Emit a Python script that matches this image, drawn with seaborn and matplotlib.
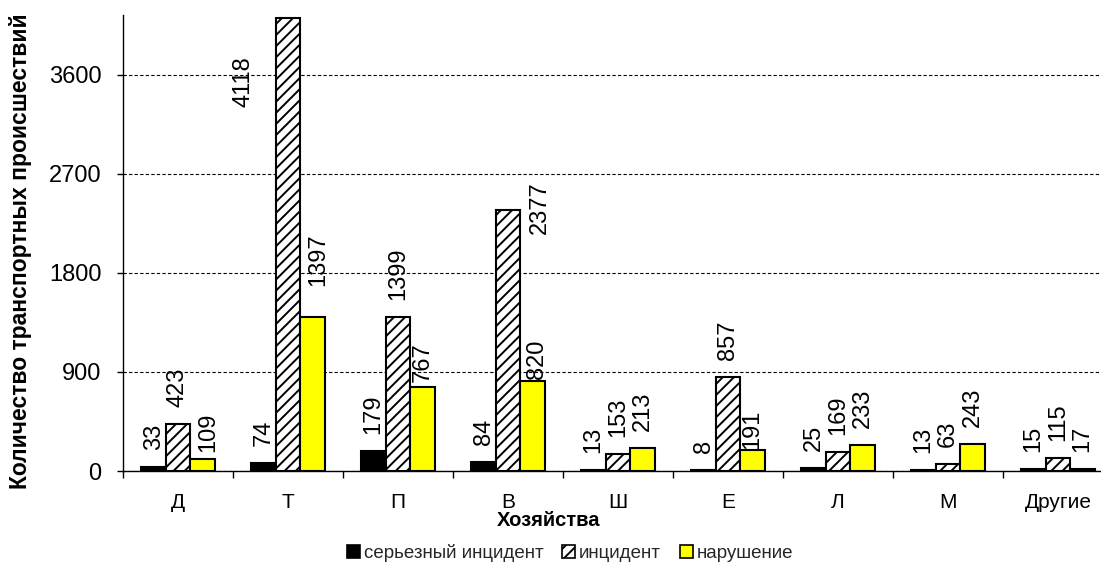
import numpy as np
import pandas as pd
import matplotlib
matplotlib.use("Agg")
import matplotlib.pyplot as plt
from matplotlib.patches import Patch
import seaborn as sns

# Transport events by farm and by severity
farms = ["Д", "Т", "П", "В", "Ш", "Е", "Л", "М", "Другие"]
series = ["серьезный инцидент", "инцидент", "нарушение"]
serious = [33, 74, 179, 84, 13, 8, 25, 13, 15]
incident = [423, 4118, 1399, 2377, 153, 857, 169, 63, 115]
violation = [109, 1397, 767, 820, 213, 191, 233, 243, 17]
y_ticks = [0, 900, 1800, 2700, 3600]

colors = ["#000000", "#FFFFFF", "#FFFF00"]
hatches = [None, "///", None]

df = pd.DataFrame({
    "Хозяйство": farms * len(series),
    "Вид": np.repeat(series, len(farms)),
    "Количество": serious + incident + violation,
})

sns.set_theme(style="white")
plt.rcParams["font.family"] = ["Liberation Sans", "DejaVu Sans"]
plt.rcParams["hatch.linewidth"] = 1.4
plt.rcParams["hatch.color"] = "black"

W, H = 1101, 571
fig = plt.figure(figsize=(W / 100, H / 100), dpi=100)
ax = fig.add_axes([123 / W, 1 - 471 / H, 990 / W, 456 / H])

sns.barplot(
    data=df, x="Хозяйство", y="Количество", hue="Вид",
    order=farms, hue_order=series, palette=colors, saturation=1,
    width=0.665, edgecolor="black", linewidth=1.5, errorbar=None,
    legend=False, ax=ax,
)

for cont, h in zip(ax.containers, hatches):
    if h:
        for bar in cont:
            bar.set_hatch(h)

ax.set_xlim(-0.5, len(farms) - 0.5)
ax.set_ylim(0, 4145)
ax.set_yticks(y_ticks)
ax.set_yticklabels([str(t) for t in y_ticks])

# dashed horizontal grid
ax.set_axisbelow(True)
ax.yaxis.grid(True, linestyle=(0, (3, 2)), color="black", linewidth=0.8)
ax.xaxis.grid(False)

for side in ["top", "right"]:
    ax.spines[side].set_visible(False)
for side in ["left", "bottom"]:
    ax.spines[side].set_color("black")
    ax.spines[side].set_linewidth(1.0)

ax.tick_params(axis="y", which="major", direction="out", length=4.5, width=1,
               color="black", pad=11, labelsize=17, labelcolor="black", left=True)
ax.tick_params(axis="x", which="major", length=0, pad=16, labelsize=15,
               labelcolor="black")
ax.set_xticks(np.arange(-0.5, len(farms), 1.0), minor=True)
ax.tick_params(axis="x", which="minor", direction="out", length=5, width=1,
               color="black", bottom=True)

ax.set_xlabel("Хозяйства", fontsize=14.5, fontweight="bold", color="black")
ax.xaxis.label.set_va("center")
ax.xaxis.set_label_coords(0.430, -(520 - 471) / 456)

ax.set_ylabel("Количество транспортных происшествий", fontsize=16.5,
              fontweight="bold", color="black")
ax.yaxis.label.set_va("center")
ax.yaxis.set_label_coords(-0.104, 0.482)

# value labels above bars (offsets in pixels)
default_gap = 17
special = {
    ("Д", 2): dict(dx=6, dy=7),
    ("Т", 2): dict(dx=6, dy=31),
    ("П", 2): dict(dx=0, dy=5),
    ("В", 2): dict(dx=5, dy=2),
    ("Е", 2): dict(dx=0, dy=1),
}
beside = {
    ("Т", 1): dict(dx=-45, dy=-64),
    ("В", 1): dict(dx=32, dy=2),
}
values = [serious, incident, violation]
for si, cont in enumerate(ax.containers):
    for fi, bar in enumerate(cont):
        v = values[si][fi]
        cx = bar.get_x() + bar.get_width() / 2
        key = (farms[fi], si)
        if key in beside:
            off = beside[key]
            va = "center"
        else:
            off = special.get(key, dict(dx=0, dy=default_gap))
            va = "bottom"
        ax.annotate(str(v), xy=(cx, v), xytext=(off["dx"], off["dy"]),
                    textcoords="offset pixels", rotation=90,
                    ha="center", va=va, fontsize=17, color="black")

handles = [Patch(facecolor=c, edgecolor="black", hatch=h, linewidth=1.2)
           for c, h in zip(colors, hatches)]
fig.legend(handles, series, loc="center", bbox_to_anchor=(570 / W, 1 - 553 / H),
           ncol=3, frameon=False, fontsize=13.5, handlelength=0.7,
           handleheight=0.7, handletextpad=0.2, columnspacing=1.0)

fig.savefig("out.png", dpi=100)
